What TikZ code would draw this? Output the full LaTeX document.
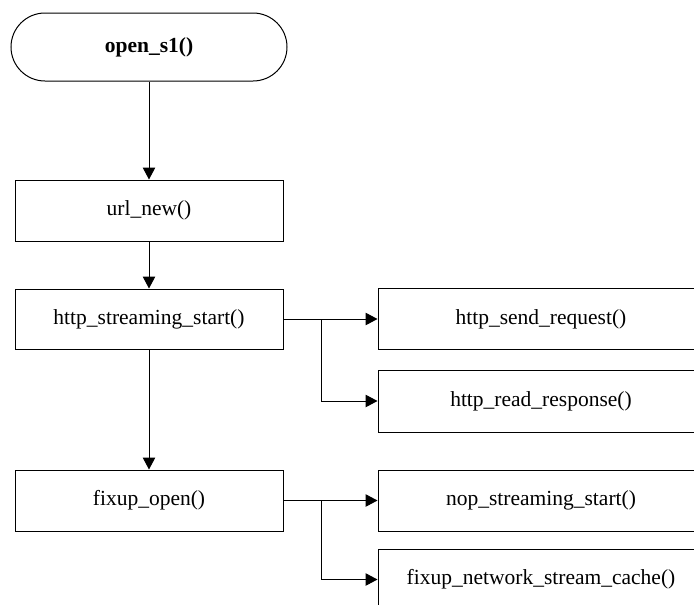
\documentclass[tikz,border=0pt]{standalone}
\usepackage{fontspec}
\setmainfont{Liberation Serif}
\usetikzlibrary{arrows.meta}
\begin{document}
\begin{tikzpicture}[x=1pt,y=-1pt,
  box/.style={draw,line width=1pt,rectangle,inner sep=0pt,minimum width=268pt,minimum height=61pt,
    font=\fontsize{21.5}{26}\selectfont},
  rbox/.style={box,minimum width=326pt},
  term/.style={box,minimum width=276pt,minimum height=68pt,rounded corners=34pt,font=\fontsize{21.5}{26}\selectfont\bfseries},
  arr/.style={line width=1pt,-{Triangle[length=12pt,width=12.5pt]}}]
\useasboundingbox (0,0) rectangle (694,605);
\fill[white] (0,0) rectangle (694,605);
\clip (0,0) rectangle (694,605);
\node[term] (start) at (149,47) {open\_s1()};
\node[box] (url) at (149,210.5) {url\_new()};
\node[box,minimum height=60pt] (http) at (149,319) {http\_streaming\_start()};
\node[box] (fix) at (149,500.5) {fixup\_open()};
\node[rbox] (send) at (541,319) {http\_send\_request()};
\node[rbox,minimum height=62pt] (read) at (541,401) {http\_read\_response()};
\node[rbox] (nop) at (541,500.5) {nop\_streaming\_start()};
\node[rbox] (cache) at (541,579.5) {fixup\_network\_stream\_cache()};
\coordinate (hb) at (321,319);
\coordinate (fb) at (321,500.5);
\draw[arr] (start) -- (url);
\draw[arr] (url) -- (http);
\draw[arr] (http) -- (fix);
\draw[arr] (http.east) -- (send.west);
\draw[arr] (hb) |- (read.west);
\draw[arr] (fix.east) -- (nop.west);
\draw[arr] (fb) |- (cache.west);
\end{tikzpicture}
\end{document}
